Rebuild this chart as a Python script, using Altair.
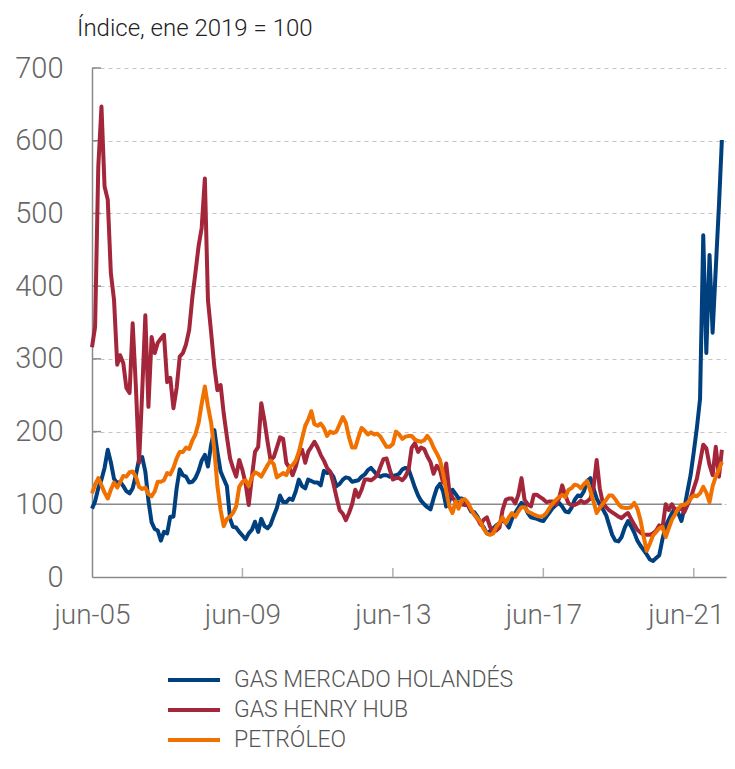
import altair as alt
import pandas as pd

# Monthly observations, Jun 2005 - Mar 2022 (index, Jan 2019 = 100)
months = pd.date_range("2005-06-01", periods=202, freq="MS").strftime("%Y-%m-%d").tolist()

holandes = [
    94, 104, 122, 134, 150, 175, 158, 135, 129, 131, 125, 118, 115, 122, 140, 162, 165, 145, 105, 75,
    66, 64, 50, 62, 60, 83, 83, 122, 148, 140, 138, 130, 131, 136, 146, 160, 168, 152, 182, 202,
    172, 145, 135, 125, 80, 69, 68, 62, 57, 52, 60, 65, 76, 62, 80, 70, 67, 72, 84, 95,
    112, 103, 103, 108, 106, 118, 134, 125, 122, 134, 132, 130, 130, 126, 146, 143, 144, 138, 125, 128,
    134, 137, 136, 131, 132, 133, 138, 141, 147, 150, 145, 140, 138, 140, 140, 138, 139, 140, 142, 148,
    150, 148, 136, 123, 112, 105, 100, 96, 93, 108, 122, 128, 118, 97, 104, 120, 114, 108, 108, 105,
    98, 90, 89, 83, 74, 68, 60, 63, 67, 71, 74, 78, 75, 68, 80, 88, 95, 102, 98, 88,
    82, 81, 80, 78, 77, 83, 89, 95, 99, 102, 97, 90, 89, 95, 106, 112, 111, 118, 132, 136,
    122, 108, 100, 93, 85, 72, 58, 50, 49, 55, 68, 77, 70, 61, 50, 43, 37, 31, 24, 22,
    26, 30, 52, 70, 79, 88, 94, 88, 77, 94, 118, 140, 172, 205, 245, 470, 308, 443, 336, 425,
    512, 601,
]

henry_hub = [
    316, 344, 564, 647, 537, 519, 418, 381, 292, 305, 294, 260, 253, 349, 262, 157, 253, 360, 234, 330,
    308, 322, 328, 333, 268, 274, 232, 260, 303, 308, 320, 340, 385, 418, 455, 480, 548, 381, 336, 289,
    257, 264, 225, 193, 163, 150, 138, 161, 147, 129, 99, 138, 172, 179, 239, 215, 185, 161, 165, 178,
    192, 190, 157, 150, 140, 152, 168, 175, 157, 172, 179, 186, 178, 168, 160, 150, 145, 129, 110, 92,
    87, 78, 88, 100, 120, 110, 120, 134, 134, 133, 136, 140, 152, 162, 163, 148, 134, 136, 136, 133,
    138, 148, 178, 184, 172, 178, 176, 166, 158, 142, 153, 147, 130, 156, 118, 109, 104, 101, 100, 99,
    99, 92, 86, 80, 72, 79, 82, 69, 62, 64, 68, 92, 106, 108, 108, 101, 113, 136, 106, 100,
    97, 113, 113, 110, 107, 103, 104, 104, 100, 108, 126, 112, 101, 99, 99, 101, 105, 102, 104, 108,
    122, 161, 122, 101, 96, 92, 89, 86, 83, 81, 85, 88, 80, 72, 65, 61, 58, 58, 58, 60,
    64, 71, 67, 100, 92, 100, 92, 92, 95, 89, 99, 108, 122, 135, 158, 182, 177, 154, 140, 179,
    138, 175,
]

petroleo = [
    115, 127, 136, 126, 116, 108, 120, 130, 123, 130, 139, 138, 144, 145, 138, 124, 121, 123, 114, 111,
    118, 131, 131, 133, 143, 141, 150, 163, 172, 172, 178, 176, 188, 196, 212, 238, 262, 235, 212, 175,
    125, 92, 70, 80, 83, 88, 97, 124, 131, 133, 125, 138, 144, 142, 138, 146, 154, 160, 155, 137,
    140, 143, 140, 151, 154, 160, 172, 190, 208, 216, 228, 210, 208, 211, 205, 194, 200, 198, 200, 210,
    220, 212, 192, 178, 178, 192, 205, 201, 196, 199, 196, 197, 193, 186, 179, 179, 183, 200, 196, 190,
    193, 194, 194, 189, 187, 186, 188, 194, 188, 178, 170, 161, 143, 118, 97, 88, 104, 94, 106, 107,
    102, 93, 86, 81, 75, 66, 60, 58, 60, 69, 74, 82, 74, 82, 88, 83, 90, 96, 96, 90,
    88, 86, 84, 83, 84, 88, 95, 101, 106, 110, 113, 110, 120, 122, 127, 126, 122, 128, 132, 118,
    104, 88, 95, 101, 106, 112, 112, 107, 100, 96, 95, 95, 96, 102, 94, 78, 55, 36, 46, 57,
    62, 67, 69, 55, 67, 79, 86, 94, 99, 99, 102, 108, 112, 111, 115, 124, 116, 103, 125, 138,
    148, 158,
]

series_names = ["GAS MERCADO HOLANDÉS", "GAS HENRY HUB", "PETRÓLEO"]
series_colors = ["#00407f", "#a3263a", "#f07000"]
x_tick_dates = ["2005-06-01", "2009-06-01", "2013-06-01", "2017-06-01", "2021-06-01"]
y_ticks = [0, 100, 200, 300, 400, 500, 600, 700]
title_text = "Índice, ene 2019 = 100"

FONT = "Roboto"
W, H = 634, 509

rows = []
for name, vals in zip(series_names, [holandes, henry_hub, petroleo]):
    for d, v in zip(months, vals):
        rows.append({"fecha": d, "valor": v, "serie": name})
df = pd.DataFrame(rows)

x_scale = alt.Scale(type="utc", domain=["2005-06-01", "2022-04-10"])
y_scale = alt.Scale(domain=[0, 700], nice=False)

lines = alt.Chart(df).mark_line(strokeWidth=4, strokeJoin="round").encode(
    x=alt.X("fecha:T", scale=x_scale,
            axis=alt.Axis(values=x_tick_dates, labelExpr="'jun-' + utcFormat(datum.value, '%y')",
                          grid=False, ticks=False, domainColor="#8a8a8a", domainWidth=1.5,
                          labelFontSize=28, labelColor="#666666", labelFont=FONT,
                          labelFontWeight=300, labelPadding=24, labelFlush=False,
                          labelOffset={"condition": {"test": "datum.value > utc(2020, 0, 1)",
                                                     "value": -8},
                                       "value": 0},
                          labelOverlap=False, title=None)),
    y=alt.Y("valor:Q", scale=y_scale,
            axis=alt.Axis(values=y_ticks, grid=True, gridDash=[4, 4], gridColor="#c4c4c4",
                          gridWidth=1, ticks=False, domainColor="#8a8a8a", domainWidth=1.5,
                          labelFontSize=29, labelColor="#666666", labelFont=FONT,
                          labelFontWeight=300, labelPadding=29, labelFlush=False,
                          labelOverlap=False, title=None)),
    color=alt.Color("serie:N", sort=series_names,
                    scale=alt.Scale(domain=series_names, range=series_colors),
                    legend=alt.Legend(orient="none", legendX=74, legendY=601, direction="vertical",
                                      title=None, symbolType="stroke", symbolStrokeWidth=4,
                                      symbolSize=2704, clipHeight=22, rowPadding=7, labelOffset=12,
                                      labelFontSize=23, labelColor="#555555", labelFont=FONT,
                                      labelFontWeight=300, labelLimit=500, padding=0)),
    order=alt.Order("serie_order:Q"),
).transform_calculate(
    serie_order="indexof(" + str(series_names) + ", datum.serie)"
)

ref_df = pd.DataFrame({"fecha": [months[0]], "fecha2": [months[-1]], "valor": [100]})
ref_line = alt.Chart(ref_df).mark_rule(color="#8a8a8a", strokeWidth=1.5).encode(
    x="fecha:T", x2="fecha2:T", y="valor:Q"
)

ytick_df = pd.DataFrame({"valor": y_ticks[1:]})
y_tick_marks = alt.Chart(ytick_df).mark_rule(color="#8a8a8a", strokeWidth=1.5).encode(
    y="valor:Q", x=alt.value(0), x2=alt.value(9)
)

xtick_df = pd.DataFrame({"fecha": x_tick_dates[1:]})
x_tick_marks = alt.Chart(xtick_df).mark_rule(color="#b0b0b0", strokeWidth=1.5).encode(
    x="fecha:T", y=alt.value(H), y2=alt.value(H - 9)
)

chart = alt.layer(ref_line, y_tick_marks, x_tick_marks, lines).properties(
    width=W, height=H,
    title=alt.TitleParams(title_text, anchor="start", frame="group", dx=-15, fontSize=24,
                          font=FONT, fontWeight=300, color="#222222", offset=13),
    padding={"left": 84, "top": 60, "right": 1, "bottom": 178},
    autosize=alt.AutoSizeParams(type="none"),
).configure_view(stroke=None)

chart.save("out.html", embed_options={"renderer": "svg", "actions": False})
